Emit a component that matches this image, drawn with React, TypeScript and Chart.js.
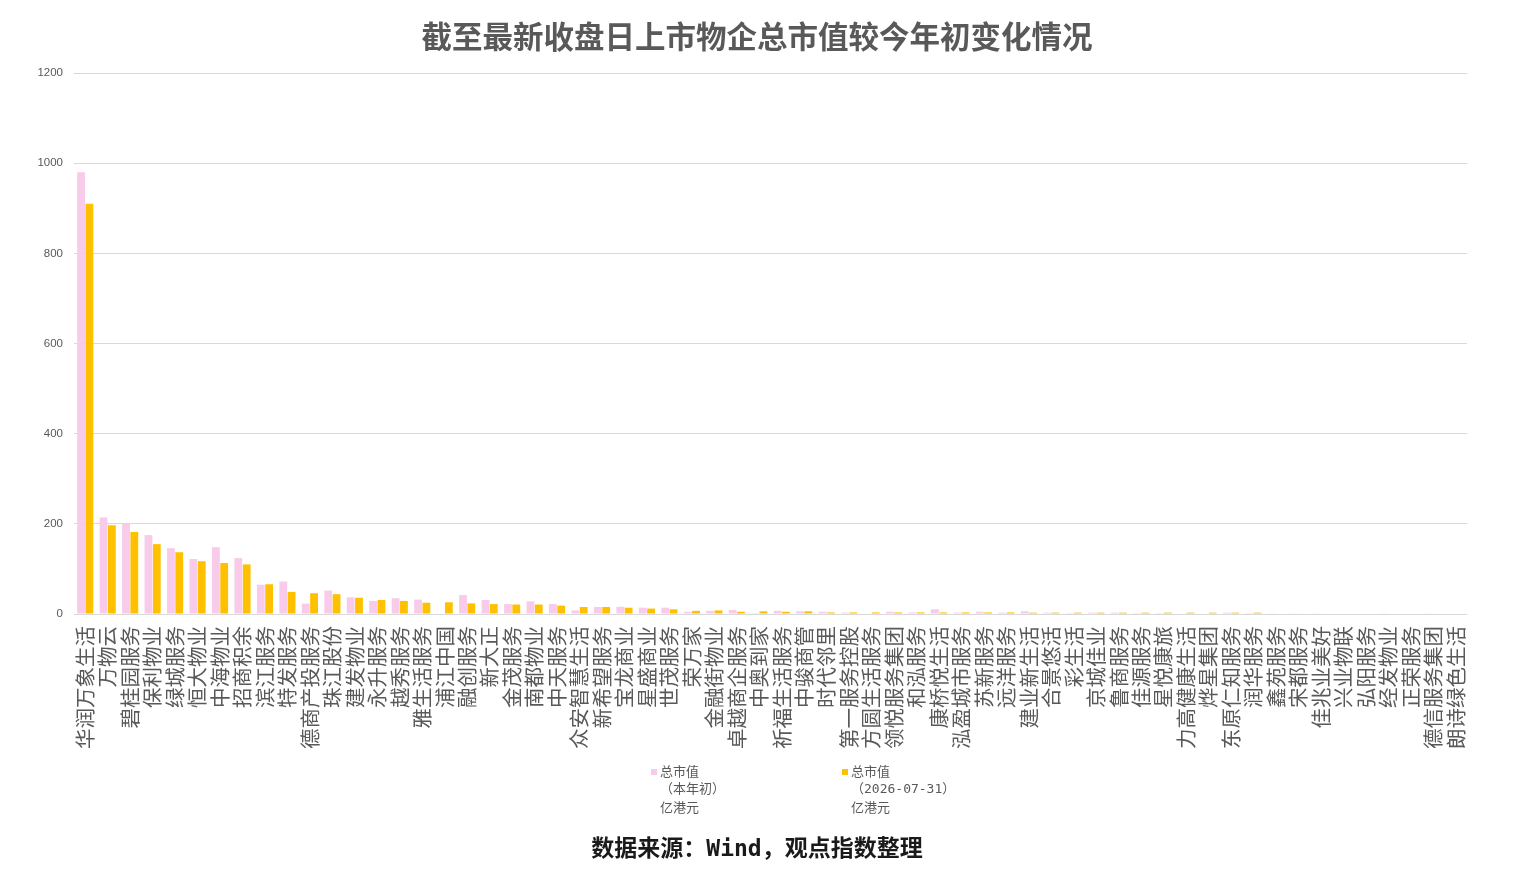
import React, { useEffect, useRef } from "react";
import { Chart, registerables } from "chart.js";

Chart.register(...registerables);

const categories = [
  "华润万象生活", "万物云", "碧桂园服务", "保利物业", "绿城服务", "恒大物业", "中海物业", "招商积余",
  "滨江服务", "特发服务", "德商产投服务", "珠江股份", "建发物业", "永升服务", "越秀服务", "雅生活服务",
  "浦江中国", "融创服务", "新大正", "金茂服务", "南都物业", "中天服务", "众安智慧生活", "新希望服务",
  "宝龙商业", "星盛商业", "世茂服务", "荣万家", "金融街物业", "卓越商企服务", "中奥到家", "祈福生活服务",
  "中骏商管", "时代邻里", "第一服务控股", "方圆生活服务", "领悦服务集团", "和泓服务", "康桥悦生活", "泓盈城市服务",
  "苏新服务", "远洋服务", "建业新生活", "合景悠活", "彩生活", "京城佳业", "鲁商服务", "佳源服务",
  "星悦康旅", "力高健康生活", "烨星集团", "东原仁知服务", "润华服务", "鑫苑服务", "宋都服务", "佳兆业美好",
  "兴业物联", "弘阳服务", "经发物业", "正荣服务", "德信服务集团", "朗诗绿色生活",
];

// 总市值（本年初），亿港元
const startValues = [
  980, 214, 200, 175, 146, 122, 148, 124,
  65, 72, 23, 52, 37, 29, 35, 32,
  0, 42, 31, 22, 28, 22, 8, 15.5,
  16, 14, 14, 5, 7, 9, 2, 7,
  6, 5, 3, 0, 5, 3.5, 10.5, 3,
  5, 3, 6, 3, 2, 3, 3, 2,
  2, 0, 0, 3, 2, 1.5, 1.5, 1.5,
  0, 0, 1.5, 0, 1.5, 0,
];

// 总市值（2026-07-31），亿港元
const latestValues = [
  910, 197, 182, 155, 137, 117, 113, 110,
  66, 49, 46, 44, 36, 31, 29, 25,
  26, 23.5, 22, 21, 21, 18.5, 15.5, 15.5,
  14, 12, 10.5, 7, 8, 5, 6, 5,
  6, 3.5, 3.5, 3.5, 3.5, 3.5, 3.5, 3.5,
  3.5, 3.5, 3, 3, 3, 3, 3, 3,
  3, 3, 3, 3, 3, 0, 0, 0,
  0, 0, 0, 0, 0, 0,
];

const yMin = 0;
const yMax = 1200;
const yStep = 200;

const TITLE = "截至最新收盘日上市物企总市值较今年初变化情况";
const SOURCE = "数据来源：Wind，观点指数整理";
const legendStart = ["总市值", "（本年初）", "亿港元"];
const legendLatest = ["总市值", "（2026-07-31）", "亿港元"];

const PINK = "#F8CBEA";
const ORANGE = "#FFC000";
const TEXT_GRAY = "#595959";
const CJK = "'Noto Sans CJK SC', 'Noto Sans', sans-serif";
const MONO_CJK = "'DejaVu Sans Mono', 'Noto Sans CJK SC', monospace";

const decorPlugin = {
  id: "decor",
  afterDraw(chart: any) {
    const ctx = chart.ctx as CanvasRenderingContext2D;
    ctx.save();
    // title
    ctx.fillStyle = TEXT_GRAY;
    ctx.font = `bold 30.5px ${CJK}`;
    ctx.textAlign = "center";
    ctx.textBaseline = "middle";
    ctx.fillText(TITLE, 757, 36);

    // legend
    const items = [
      { boxX: 651, color: PINK, lines: legendStart },
      { boxX: 842, color: ORANGE, lines: legendLatest },
    ];
    ctx.textAlign = "left";
    items.forEach((it) => {
      ctx.fillStyle = it.color;
      ctx.fillRect(it.boxX, 769, 6, 6);
      ctx.fillStyle = TEXT_GRAY;
      it.lines.forEach((ln, i) => {
        ctx.font = i === 1 ? `13px ${MONO_CJK}` : `13px ${CJK}`;
        ctx.fillText(ln, it.boxX + 9, 771.5 + i * 18);
      });
    });

    // source
    ctx.fillStyle = "#1a1a1a";
    ctx.font = `bold 23px ${MONO_CJK}`;
    ctx.textAlign = "center";
    ctx.fillText(SOURCE, 757, 850);
    ctx.restore();
  },
};

export default function App() {
  const ref = useRef<HTMLCanvasElement | null>(null);

  useEffect(() => {
    document.body.style.margin = "0";
    document.body.style.overflow = "hidden";
    if (!ref.current) return;
    const chart = new Chart(ref.current, {
      type: "bar",
      data: {
        labels: categories,
        datasets: [
          {
            label: "总市值（本年初）亿港元",
            data: startValues,
            backgroundColor: PINK,
            borderWidth: 0,
            categoryPercentage: 0.74,
            barPercentage: 0.94,
          },
          {
            label: "总市值（2026-07-31）亿港元",
            data: latestValues,
            backgroundColor: ORANGE,
            borderWidth: 0,
            categoryPercentage: 0.74,
            barPercentage: 0.94,
          },
        ],
      },
      options: {
        responsive: false,
        animation: false,
        layout: { padding: { left: 0, right: 55, top: 73, bottom: 124 } },
        plugins: {
          legend: { display: false },
          title: { display: false },
          tooltip: { enabled: false },
        },
        scales: {
          x: {
            grid: { display: false, drawTicks: false },
            border: { display: false },
            ticks: {
              autoSkip: false,
              minRotation: 90,
              maxRotation: 90,
              padding: 12,
              color: TEXT_GRAY,
              font: { size: 20.5, family: CJK },
            },
            afterFit: (scale: any) => {
              scale.height = 134;
            },
          },
          y: {
            min: yMin,
            max: yMax,
            grid: { color: "#d9d9d9", lineWidth: 1, drawTicks: false },
            border: { display: false },
            ticks: {
              stepSize: yStep,
              padding: 11,
              color: TEXT_GRAY,
              font: { size: 11.5, family: "'Liberation Sans', Arial, sans-serif" },
              callback: (v: any) => String(v),
            },
            afterFit: (scale: any) => {
              scale.width = 74;
            },
          },
        },
      },
      plugins: [decorPlugin],
    });
    return () => chart.destroy();
  }, []);

  return <canvas ref={ref} width={1522} height={872} style={{ display: "block" }} />;
}
